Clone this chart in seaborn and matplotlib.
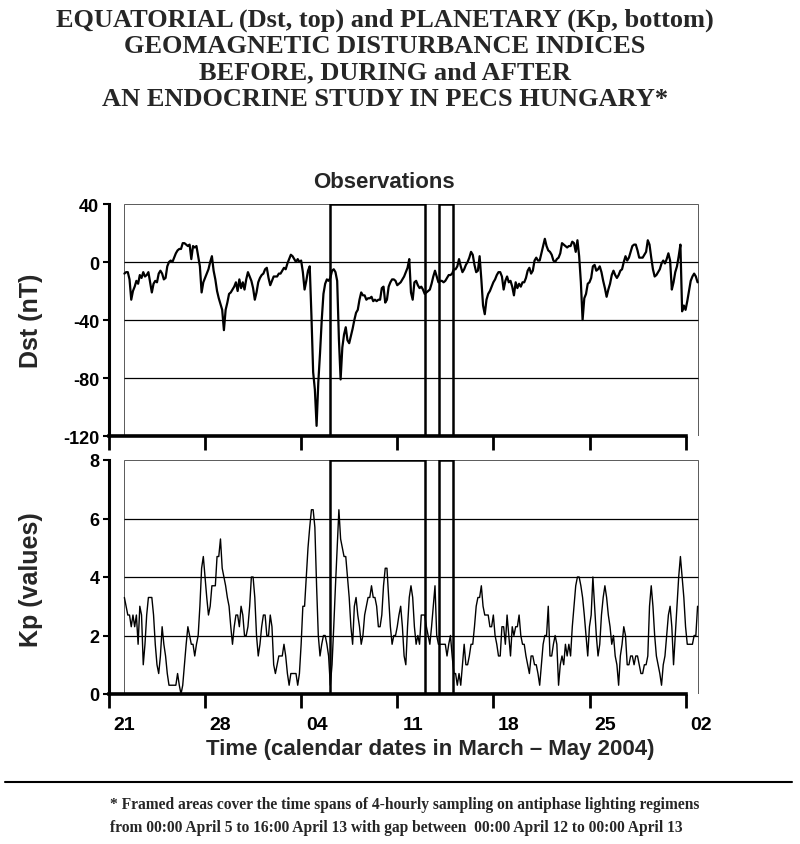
import numpy as np
import pandas as pd
import matplotlib
matplotlib.use("Agg")
import matplotlib.pyplot as plt
from matplotlib.patches import Rectangle
from matplotlib.lines import Line2D
import seaborn as sns

# 3-hourly readings from 00:00 March 21 2004
STEP_HOURS = 3

dst_nT = [
    -8, -7, -7, -12, -26, -20, -17, -13, -15, -9,
    -11, -7, -10, -9, -7, -14, -21, -15, -13, -14,
    -8, -6, -8, -12, -11, -3, 0, 1, 0, 3,
    6, 8, 9, 9, 13, 13, 12, 11, 12, 2,
    11, 10, 11, 4, -3, -21, -14, -11, -8, -5,
    0, 4, -6, -12, -20, -25, -29, -33, -47, -33,
    -28, -22, -21, -19, -17, -14, -20, -12, -18, -14,
    -19, -12, -7, -10, -13, -18, -26, -21, -14, -11,
    -9, -8, -5, -4, -11, -16, -13, -10, -10, -10,
    -8, -8, -6, -4, -5, -1, 2, 5, 4, 2,
    0, 2, 0, 1, -7, -19, -13, -6, -3, -37,
    -76, -88, -113, -83, -63, -40, -22, -15, -12, -13,
    -11, -6, -5, -7, -13, -53, -81, -59, -50, -45,
    -54, -56, -51, -46, -40, -35, -33, -26, -21, -23,
    -23, -26, -25, -25, -24, -27, -26, -27, -26, -26,
    -18, -17, -28, -26, -17, -14, -12, -12, -13, -16,
    -15, -14, -12, -10, -7, -4, 2, -21, -26, -14,
    -13, -16, -18, -17, -19, -22, -21, -20, -19, -15,
    -10, -6, -10, -14, -13, -13, -14, -13, -11, -9,
    -9, -8, -5, -5, -3, 2, -3, -7, -5, -2,
    0, 3, 7, 5, -2, -7, -6, 4, -12, -30,
    -36, -26, -22, -20, -17, -14, -12, -9, -7,
    -7, -10, -19, -13, -10, -14, -13, -17, -23, -14, -18,
    -15, -17, -14, -14, -11, -6, -4, -8, -6, 1,
    3, 1, 1, 6, 11, 16, 11, 8, 7, 5,
    1, 0, 2, 3, 6, 13, 12, 11, 10, 11,
    11, 14, 13, 7, 15, 4, -14, -40, -25, -22,
    -15, -14, -11, -3, -2, -6, -5, -3, -7, -13,
    -18, -24, -19, -15, -9, -6, -9, -11, -9, -6,
    -5, 0, 4, 1, 3, 7, 11, 12, 12, 8,
    3, 3, 3, 5, 7, 15, 12, 3, -5, -10,
    -9, -7, -5, -1, 1, -1, 2, 6, 1, -19,
    -14, -7, -3, 4, 12, -34, -30, -33, -27, -20,
    -13, -10, -8, -10, -14,
]

kp_values = [
    3.3, 3.0, 2.7, 2.7, 2.3, 2.7, 2.3, 2.7, 1.7, 3.0,
    2.7, 1.0, 1.7, 2.7, 3.3, 3.3, 3.3, 2.7, 1.7, 1.0,
    0.7, 1.3, 2.3, 1.7, 1.3, 0.7, 0.3, 0.3, 0.3, 0.3,
    0.3, 0.7, 0.3, 0.0, 0.3, 1.0, 1.7, 2.3, 2.0, 1.7,
    1.7, 1.3, 1.7, 2.0, 3.0, 4.3, 4.7, 4.0, 3.3, 2.7,
    3.0, 3.7, 3.7, 3.7, 4.7, 4.7, 5.3, 4.3, 4.0, 3.7,
    3.3, 3.0, 2.3, 1.7, 2.3, 2.7, 2.7, 2.3, 3.0, 2.7,
    2.0, 2.0, 2.3, 3.0, 4.0, 4.0, 3.3, 2.0, 1.3, 1.7,
    2.3, 2.7, 2.7, 2.0, 2.0, 2.7, 2.3, 1.0, 0.7, 1.0,
    1.3, 1.3, 1.3, 1.7, 1.3, 0.7, 0.3, 0.7, 0.7, 0.7,
    0.7, 0.3, 0.7, 1.7, 3.0, 3.0, 4.0, 5.0, 5.7, 6.3,
    6.3, 5.7, 3.7, 2.0, 1.3, 1.7, 2.0, 2.0, 1.7, 1.3,
    0.3, 1.0, 2.3, 3.7, 5.0, 6.3, 5.3, 5.0, 4.7, 4.7,
    4.0, 3.3, 2.3, 1.7, 3.0, 3.3, 2.7, 2.3, 1.7, 2.0,
    2.7, 3.0, 3.3, 3.3, 3.7, 3.3, 3.3, 3.0, 2.3, 2.3,
    2.7, 3.7, 4.3, 4.3, 3.3, 2.3, 1.7, 2.0, 2.0, 2.3,
    2.7, 3.0, 2.3, 1.3, 1.0, 2.3, 3.3, 3.7, 3.3, 2.3,
    1.7, 2.0, 1.7, 2.7, 2.7, 2.7, 2.3, 2.0, 1.7, 2.3,
    3.0, 3.7, 2.0, 1.7, 1.7, 1.7, 1.7, 1.7, 1.3, 1.7,
    2.0, 1.3, 0.7, 0.7, 0.3, 0.7, 0.3, 1.0, 1.7, 1.0,
    1.0, 1.3, 1.7, 1.7, 2.3, 3.0, 3.3, 3.3, 3.7, 3.0,
    2.7, 2.7, 2.7, 2.3, 2.3, 2.7, 2.0, 1.7, 1.3,
    1.3, 2.3, 2.3, 1.7, 2.7, 2.0, 1.3, 2.3, 2.0, 2.3, 2.3,
    2.7, 2.0, 1.7, 1.7, 1.3, 1.0, 0.7, 1.3, 1.3, 1.0,
    1.0, 0.7, 0.3, 1.0, 1.7, 2.0, 2.0, 3.0, 1.3, 1.3,
    1.7, 2.0, 1.7, 0.3, 1.0, 1.3, 1.0, 1.7, 1.3, 1.7,
    1.3, 2.3, 3.0, 3.7, 4.0, 4.0, 3.7, 3.3, 2.7, 2.0,
    1.3, 2.3, 2.7, 4.0, 3.0, 2.0, 1.3, 1.7, 2.7, 3.3,
    3.7, 3.3, 2.7, 2.3, 1.7, 2.0, 1.3, 1.0, 0.3, 1.3,
    1.7, 2.3, 2.0, 1.0, 1.0, 1.3, 1.3, 1.0, 1.3, 1.3,
    1.0, 0.7, 0.7, 1.0, 1.0, 1.3, 3.0, 3.7, 3.0, 2.0,
    1.3, 1.0, 0.7, 0.3, 1.0, 1.3, 2.0, 2.7, 3.0, 2.3,
    1.0, 2.0, 3.0, 4.0, 4.7, 4.0, 3.3, 2.3, 1.7, 1.7,
    1.7, 1.7, 2.0, 2.0, 3.0,
]

# framed sampling spans, days after 00:00 March 21
study_spans = [(15.0, 21.9), (22.9, 23.9)]
date_labels = ["21", "28", "04", "11", "18", "25", "02"]
dst_ticks = [-120, -80, -40, 0, 40]
kp_ticks = [0, 2, 4, 6, 8]

n = min(len(dst_nT), len(kp_values))
days = np.arange(n) * STEP_HOURS / 24.0
df = pd.DataFrame({"day": days, "dst": dst_nT[:n], "kp": kp_values[:n]})
t_end = days[-1]

sns.set_theme(style="ticks")
plt.rcParams["font.family"] = ["Liberation Sans", "DejaVu Sans"]
plt.rcParams["font.weight"] = "bold"

fig = plt.figure(figsize=(8, 8.45), dpi=100)
W, H = 800.0, 845.0
ax1 = fig.add_axes([109 / W, 1 - 437 / H, 592 / W, 232 / H])
ax2 = fig.add_axes([109 / W, 1 - 695 / H, 592 / W, 234 / H])

sns.lineplot(data=df, x="day", y="dst", ax=ax1, color="black", lw=1.6)
sns.lineplot(data=df, x="day", y="kp", ax=ax2, color="black", lw=1.0)

x_lo, x_hi = -1.12, 41.9
tick_days = np.arange(7) * 7 - 1.12

for ax, ticks, labels in [(ax1, dst_ticks, [str(v) for v in dst_ticks]),
                          (ax2, kp_ticks, [str(v) for v in kp_ticks])]:
    ymin, ymax = ticks[0], ticks[-1]
    ax.set_xlim(x_lo, x_hi)
    ax.set_ylim(ymin, ymax)
    ax.set_xlabel("")
    ax.set_ylabel("")
    # thin frame of the data area
    ax.add_patch(Rectangle((0, ymin), t_end, ymax - ymin, fill=False,
                           lw=0.7, edgecolor="0.35", zorder=1))
    ax.hlines(ticks[1:-1], 0, t_end, color="black", lw=0.9, zorder=1)
    for a, b in study_spans:
        ax.add_patch(Rectangle((a, ymin), b - a, ymax - ymin, fill=False,
                               lw=1.8, edgecolor="black", zorder=3))
    for s in ["top", "right"]:
        ax.spines[s].set_visible(False)
    ax.spines["left"].set_linewidth(2.2)
    ax.spines["bottom"].set_linewidth(2.6)
    ax.spines["left"].set_color("black")
    ax.spines["bottom"].set_color("black")
    ax.spines["bottom"].set_bounds(x_lo, tick_days[-1])
    ax.set_yticks(ticks)
    ax.set_yticklabels(labels)
    ax.tick_params(axis="y", direction="out", length=4, width=1.5,
                   labelsize=13, pad=3, colors="black")
    ax.set_xticks(tick_days)
    ax.set_xticklabels([])
    ax.tick_params(axis="x", which="major", direction="out", length=10,
                   width=2, colors="black")
    ax.set_xticks(np.arange(7) * 7, minor=True)
    ax.tick_params(axis="x", which="minor", length=0, pad=16, labelsize=14,
                   colors="black")

ax1.set_xticklabels([], minor=True)
ax2.set_xticklabels(date_labels, minor=True)

fig.text(384 / W, 1 - 183 / H, "Observations", ha="center", va="center",
         fontsize=16, fontweight="bold")
fig.text(31 / W, 1 - 321 / H, "Dst (nT)", rotation=90, ha="center",
         va="center", fontsize=18, fontweight="bold")
fig.text(31 / W, 1 - 580 / H, "Kp (values)", rotation=90, ha="center",
         va="center", fontsize=18, fontweight="bold")
fig.text(430 / W, 1 - 750 / H, "Time (calendar dates in March \u2013 May 2004)",
         ha="center", va="center", fontsize=16, fontweight="bold")

title_lines = [
    "EQUATORIAL (Dst, top) and PLANETARY (Kp, bottom)",
    "GEOMAGNETIC DISTURBANCE INDICES",
    "BEFORE, DURING and AFTER",
    "AN ENDOCRINE STUDY IN PECS HUNGARY*",
]
for i, line in enumerate(title_lines):
    fig.text(385 / W, 1 - (20 + 26.5 * i) / H, line, ha="center", va="center",
             fontsize=19, fontweight="bold", family="Liberation Serif")

fig.add_artist(Line2D([5 / W, 792 / W], [1 - 783 / H, 1 - 783 / H],
                      color="black", lw=1.5))
foot = [
    "* Framed areas cover the time spans of 4-hourly sampling on antiphase lighting regimens",
    "from 00:00 April 5 to 16:00 April 13 with gap between  00:00 April 12 to 00:00 April 13",
]
for i, line in enumerate(foot):
    fig.text(110 / W, 1 - (805 + 23 * i) / H, line, ha="left", va="center",
             fontsize=11.2, fontweight="bold", family="Liberation Serif")

fig.savefig("out.png", dpi=100)
